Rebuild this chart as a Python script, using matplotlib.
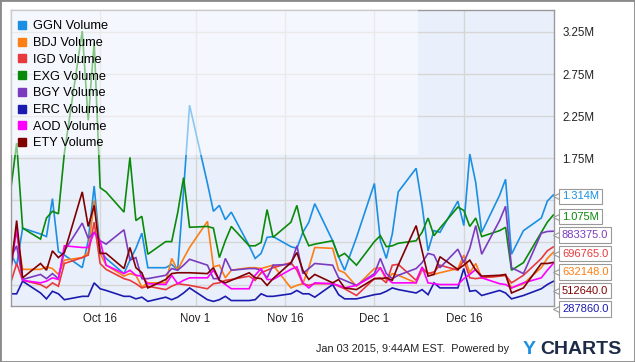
import matplotlib
matplotlib.use("Agg")
import matplotlib.pyplot as plt
import matplotlib.patches as mpatches
from matplotlib.lines import Line2D
from matplotlib.ticker import FixedLocator, FuncFormatter
import pandas as pd

plt.rcParams['font.family'] = ['Liberation Sans', 'DejaVu Sans']

# trading days, Oct 1 - Dec 31 2014 (market closed Nov 27, Dec 25)
dates = pd.bdate_range("2014-10-01", "2014-12-31")
dates = dates.drop([pd.Timestamp("2014-11-27"), pd.Timestamp("2014-12-25")])

# daily volume, millions of shares
ggn = [0.62, 0.48, 0.92, 0.85, 0.82, 1.27, 0.64, 0.60, 0.45, 0.77, 1.42, 0.65,
       0.56, 0.38, 0.54, 0.68, 0.86, 0.45, 0.45, 0.49, 0.42, 1.37, 2.38,
       1.45, 1.12, 1.19, 1.02, 1.11, 0.71, 0.56, 0.62, 0.81, 0.82, 0.70, 0.68,
       0.87, 0.99, 1.21, 0.77, 0.58, 0.42, 0.81,
       1.45, 0.77, 0.56, 0.85, 1.35, 1.63, 1.19, 0.65, 0.89, 0.87, 1.24, 0.95,
       1.80, 1.46, 0.87, 1.31, 1.50, 0.61, 0.89, 1.04, 1.24, 1.314]
bdj = [0.57, 0.87, 0.43, 0.43, 0.46, 0.44, 0.37, 0.54, 0.57, 0.63, 1.25, 0.62,
       0.48, 0.35, 0.38, 0.36, 0.22, 0.27, 0.27, 0.56, 0.42, 0.56, 0.69,
       1.00, 0.46, 0.48, 0.33, 0.42, 0.45, 0.45, 0.44, 0.46, 0.48, 0.21, 0.24,
       0.26, 0.45, 0.69, 0.68, 0.42, 0.39, 0.23,
       0.44, 0.45, 0.30, 0.38, 0.36, 0.27, 0.42, 0.39, 0.37, 0.39, 0.44, 0.60,
       0.39, 0.50, 0.33, 0.35, 0.36, 0.21, 0.26, 0.45, 0.56, 0.632148]
igd = [0.27, 0.50, 0.30, 0.25, 0.21, 0.27, 0.23, 0.50, 0.57, 0.60, 0.99, 0.50,
       0.43, 0.32, 0.30, 0.26, 0.21, 0.23, 0.19, 0.23, 0.26, 0.25, 0.24,
       0.20, 0.26, 0.27, 0.30, 0.31, 0.35, 0.30, 0.39, 0.42, 0.45, 0.51, 0.42,
       0.26, 0.24, 0.26, 0.26, 0.23, 0.20, 0.12,
       0.32, 0.33, 0.27, 0.48, 0.49, 0.30, 0.45, 0.38, 0.40, 0.48, 0.42, 0.54,
       0.33, 0.32, 0.33, 0.35, 0.36, 0.27, 0.36, 0.56, 0.65, 0.696765]
exg = [1.37, 1.93, 0.92, 0.79, 1.04, 1.12, 1.09, 1.81, 3.26, 2.20, 3.13, 1.40,
       1.35, 1.11, 1.76, 1.01, 1.06, 0.61, 0.76, 0.76, 1.10, 1.52, 0.93,
       0.94, 0.92, 0.57, 0.77, 0.94, 0.71, 0.71, 0.75, 1.14, 0.81, 0.99, 1.19,
       0.87, 0.71, 0.73, 0.77, 0.58, 0.62, 0.48,
       0.76, 0.83, 0.70, 0.71, 0.74, 0.77, 0.87, 1.04, 0.83, 0.92, 1.17, 1.13,
       0.94, 1.04, 0.82, 0.89, 0.93, 0.42, 0.51, 0.87, 0.99, 1.075]
bgy = [0.57, 0.71, 0.31, 0.37, 0.32, 0.38, 0.32, 0.65, 0.98, 0.80, 0.87, 0.77,
       0.73, 0.90, 0.54, 0.57, 0.32, 0.32, 0.36, 0.44, 0.42, 0.48, 0.55,
       0.48, 0.32, 0.32, 0.56, 0.42, 0.44, 0.44, 0.42, 0.33, 0.48, 0.49, 0.71,
       0.38, 0.44, 0.50, 0.48, 0.33, 0.30, 0.24,
       0.38, 0.56, 0.38, 0.32, 0.36, 0.44, 0.51, 0.62, 0.60, 0.45, 0.67, 0.51,
       0.68, 0.95, 0.61, 1.01, 1.18, 0.45, 0.38, 0.86, 0.88, 0.883375]
erc = [0.14, 0.14, 0.29, 0.15, 0.08, 0.17, 0.14, 0.07, 0.11, 0.11, 0.27, 0.20,
       0.18, 0.11, 0.11, 0.08, 0.10, 0.05, 0.10, 0.07, 0.10, 0.15, 0.21,
       0.07, 0.05, 0.07, 0.11, 0.06, 0.06, 0.07, 0.14, 0.11, 0.11, 0.14, 0.18,
       0.14, 0.14, 0.10, 0.25, 0.13, 0.08, 0.08,
       0.13, 0.14, 0.17, 0.21, 0.19, 0.15, 0.19, 0.13, 0.27, 0.21, 0.21, 0.44,
       0.17, 0.18, 0.12, 0.18, 0.15, 0.08, 0.12, 0.20, 0.25, 0.28786]
aod = [0.42, 0.92, 0.30, 0.27, 0.29, 0.33, 0.31, 0.71, 0.69, 0.69, 0.87, 0.77,
       0.48, 0.38, 0.42, 0.36, 0.35, 0.26, 0.25, 0.36, 0.26, 0.30, 0.33,
       0.33, 0.42, 0.30, 0.25, 0.20, 0.20, 0.36, 0.44, 0.31, 0.31, 0.43, 0.46,
       0.27, 0.21, 0.27, 0.26, 0.24, 0.21, 0.24,
       0.36, 0.45, 0.33, 0.27, 0.27, 0.27, 0.46, 0.27, 0.26, 0.25, 0.25, 0.32,
       0.37, 0.43, 0.33, 0.26, 0.25, 0.21, 0.27, 0.33, 0.42, 0.50]
ety = [0.42, 1.01, 0.33, 0.50, 0.42, 0.65, 0.57, 0.63, 1.35, 0.94, 1.19, 0.62,
       0.62, 0.44, 0.69, 0.45, 0.39, 0.21, 0.31, 0.38, 0.39, 0.39, 0.39,
       0.38, 0.45, 0.30, 0.27, 0.30, 0.39, 0.33, 0.32, 0.24, 0.32, 0.51, 0.63,
       0.42, 0.31, 0.37, 0.27, 0.31, 0.21, 0.19,
       0.32, 0.32, 0.33, 0.30, 0.48, 0.95, 0.65, 0.35, 0.37, 0.58, 0.43, 0.48,
       0.54, 0.42, 0.35, 0.36, 0.37, 0.15, 0.21, 0.50, 0.50, 0.51264]

names = ["GGN Volume", "BDJ Volume", "IGD Volume", "EXG Volume",
         "BGY Volume", "ERC Volume", "AOD Volume", "ETY Volume"]
series = [ggn, bdj, igd, exg, bgy, erc, aod, ety]
colors = ["#1a8fe3", "#fd7e14", "#e8393c", "#0a8a0a",
          "#7b3bbf", "#1b1baf", "#ff00ff", "#7f0000"]
end_labelled = [True, True, True, True, True, True, False, True]

x_ticks = pd.to_datetime(["2014-10-16", "2014-11-01", "2014-11-16",
                          "2014-12-01", "2014-12-16"])
x_ticklabels = ["Oct 16", "Nov 1", "Nov 16", "Dec 1", "Dec 16"]
y_ticks = [0.25, 0.75, 1.25, 1.75, 2.25, 2.75, 3.25]

W, H = 635, 362
fig = plt.figure(figsize=(W / 100, H / 100), dpi=100)
ax = fig.add_axes([10.7 / W, 1 - 305.6 / H, (554 - 10.7) / W, (305.6 - 10) / H])
ax.set_facecolor("#eaf0fb")

for vals, c in zip(series, colors):
    ax.plot(dates, vals, color=c, lw=1.2, zorder=2, solid_joinstyle="miter")

ax.set_xlim(pd.Timestamp("2014-10-01"), pd.Timestamp("2014-12-31 03:00"))
ax.set_ylim(0, 3.51)

ax.xaxis.set_major_locator(FixedLocator(matplotlib.dates.date2num(x_ticks)))
ax.set_xticklabels(x_ticklabels)
ax.yaxis.tick_right()
ax.yaxis.set_major_locator(FixedLocator(y_ticks))
ax.yaxis.set_major_formatter(FuncFormatter(lambda v, p: f"{v:.2f}M" if v > 1.5 else ""))
ax.tick_params(length=0, labelsize=8.3, colors="#222222")
ax.tick_params(axis="y", pad=6)
ax.tick_params(axis="x", pad=5)
ax.grid(True, color="#d6d6d6", lw=1, zorder=1)
ax.set_axisbelow(True)
for s in ax.spines.values():
    s.set_color("#9a9a9a")
    s.set_linewidth(1)

# translucent legend panel
ax.add_patch(mpatches.Rectangle((0, 0.509), 0.75, 0.491, transform=ax.transAxes,
                                fc="white", ec="none", alpha=0.5, zorder=3))
handles = [Line2D([], [], marker="s", ls="none", color=c, markersize=6) for c in colors]
leg = ax.legend(handles, names, loc="upper left", bbox_to_anchor=(0.012, 0.965),
                frameon=False, fontsize=9.2, handlelength=0.8, handletextpad=0.45,
                labelspacing=0.37, borderaxespad=0, borderpad=0)
leg.set_zorder(5)

# end-value labels, pushed apart so they don't overlap
ends = [(s[-1], c) for s, c, show in zip(series, colors, end_labelled) if show]
ends.sort(key=lambda t: -t[0])
prev = None
for v, c in ends:
    py = ax.transData.transform((0, v))[1] - 1.5
    if prev is not None:
        py = min(py, prev - 18.5)
    prev = py
    txt = f"{v:.3f}M" if v >= 1 else f"{v * 1e6:.1f}"
    fig.add_artist(Line2D([557 / W], [py / H], marker="<", markersize=6, mfc="white",
                          mec="#999999", mew=0.8, ls="none", zorder=4))
    fig.text(562 / W, py / H, txt, color=c, fontsize=8, va="center", ha="left", zorder=5,
             bbox=dict(boxstyle="square,pad=0.25", fc="white", ec="#999999", lw=0.8))

# footer
fig.text(509 / W, 1 - 352 / H, "Jan 03 2015, 9:44AM EST.  Powered by",
         ha="right", va="baseline", fontsize=7.8, color="#222222")
fig.text(523 / W, 1 - 354 / H, "Y", ha="left", va="baseline", fontsize=14,
         fontweight="bold", color="#1a8fe3")
fig.text(540 / W, 1 - 354 / H, "CHARTS", ha="left", va="baseline", fontsize=14,
         fontweight="bold", color="#1d2b47")

fig.add_artist(mpatches.Rectangle((0, 0), 1, 1, transform=fig.transFigure, fill=False,
                                  ec="#8a8a8a", lw=2))

fig.savefig("out.png", dpi=100)
